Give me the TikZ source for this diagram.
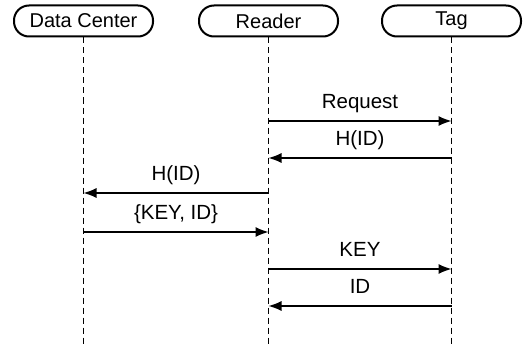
\documentclass[tikz,border=0pt]{standalone}
\usepackage{fontspec}
\setmainfont{Liberation Sans}
\usetikzlibrary{arrows.meta}
\begin{document}
\begin{tikzpicture}[x=1pt,y=-1pt,
  actor/.style={draw,line width=2pt,rounded corners=15pt,minimum width=139pt,minimum height=31pt,inner sep=0pt,font=\fontsize{20}{24}\selectfont},
  life/.style={line width=1.4pt,dash pattern=on 6pt off 4pt},
  msg/.style={-{Latex[length=13pt,width=10pt]},line width=1.4pt},
  lbl/.style={font=\fontsize{20.5}{24}\selectfont,anchor=base,yshift=12.3pt}]
\useasboundingbox (0,0) rectangle (525,345);
% actors
\node[actor] (dc) at (83.5,21) {Data Center};
\node[actor] (rd) at (268.5,21) {Reader};
\node[actor] (tg) at (451.5,21) {Tag};
% lifelines
\coordinate (dcend) at (83.5,345);
\coordinate (rdend) at (268.5,345);
\coordinate (tgend) at (451.5,345);
\draw[life] (dc) -- (dcend);
\draw[life] (rd) -- (rdend);
\draw[life] (tg) -- (tgend);
% message points
\foreach \n/\y in {1/121,2/158,3/193,4/232,5/269,6/306}{
  \coordinate (dc\n) at (83.5,\y);
  \coordinate (rd\n) at (268.5,\y);
  \coordinate (tg\n) at (451.5,\y);
}
% messages
\draw[msg] (rd1) -- node[lbl] {Request} (tg1);
\draw[msg] (tg2) -- node[lbl] {H(ID)} (rd2);
\draw[msg] (rd3) -- node[lbl] {H(ID)} (dc3);
\draw[msg] (dc4) -- node[lbl] {\{KEY, ID\}} (rd4);
\draw[msg] (rd5) -- node[lbl] {KEY} (tg5);
\draw[msg] (tg6) -- node[lbl] {ID} (rd6);
\end{tikzpicture}
\end{document}
